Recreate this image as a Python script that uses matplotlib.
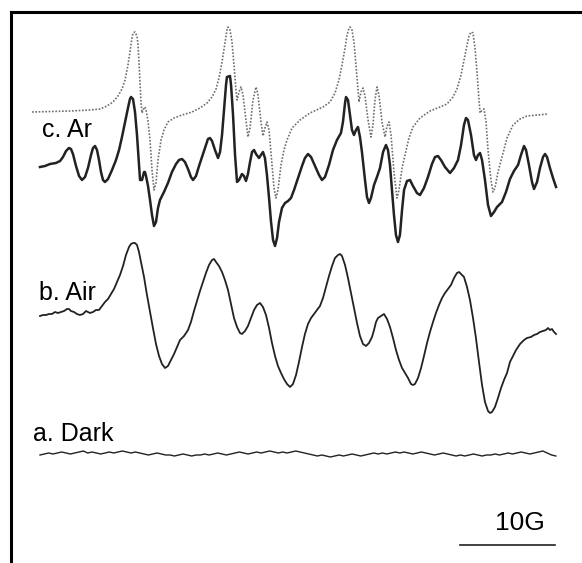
import numpy as np
import matplotlib
matplotlib.use('Agg')
import matplotlib.pyplot as plt
from matplotlib.lines import Line2D

# (field in G, signal in a.u., up = positive)
# c. Ar, simulated spectrum (dotted)
ar_sim = [(-0.84, 0), (1.05, 0.5), (3.16, 1), (5.26, 2), (6.32, 3), (7.05, 6), (7.68, 10),
          (8.21, 16), (8.63, 23), (8.95, 32), (9.26, 47), (9.47, 60), (9.68, 74), (9.79, 79),
          (10.00, 80), (10.21, 76), (10.32, 67), (10.42, 50), (10.53, 29), (10.63, 10),
          (10.74, -1), (10.95, 4), (11.05, 5), (11.16, 2), (11.37, -9), (11.58, -28),
          (11.79, -58), (12.00, -78), (12.21, -71), (12.42, -48), (12.74, -28), (13.05, -18),
          (13.47, -10), (14.11, -6), (14.95, -3), (16.00, 0), (16.84, 4), (17.58, 9),
          (18.11, 15), (18.53, 23), (18.84, 34), (19.16, 50), (19.47, 69), (19.68, 82),
          (19.79, 85), (20.00, 82), (20.21, 70), (20.42, 47), (20.63, 22), (20.74, 12),
          (20.95, 20), (21.16, 25), (21.37, 17), (21.68, -8), (21.89, -25), (22.11, -16),
          (22.42, 12), (22.74, 25), (22.95, 17), (23.26, -10), (23.47, -24), (23.68, -16),
          (23.89, -10), (24.11, -18), (24.42, -53), (24.63, -76), (24.84, -86), (25.05, -78),
          (25.37, -53), (25.68, -38), (26.00, -28), (26.53, -16), (27.37, -8), (28.42, -1),
          (29.79, 5), (30.53, 10), (31.05, 19), (31.47, 32), (31.79, 47), (32.11, 64),
          (32.32, 77), (32.53, 84), (32.63, 85), (32.84, 82), (33.05, 70), (33.26, 47),
          (33.47, 22), (33.58, 10), (33.79, 20), (34.00, 24), (34.21, 16), (34.53, -8),
          (34.84, -25), (35.05, -13), (35.26, 12), (35.47, 25), (35.68, 17), (36.00, -10),
          (36.32, -25), (36.53, -14), (36.74, -10), (36.95, -23), (37.26, -60), (37.58, -86),
          (37.79, -78), (38.11, -56), (38.42, -43), (38.84, -26), (39.26, -15), (40.00, -6),
          (41.05, 1), (42.11, 5), (42.84, 8), (43.47, 15), (43.89, 23), (44.32, 37),
          (44.63, 52), (44.95, 67), (45.16, 76), (45.37, 80), (45.58, 79), (45.79, 64),
          (46.00, 40), (46.21, 12), (46.32, -1), (46.53, 2), (46.74, 3), (46.95, -10),
          (47.16, -38), (47.47, -68), (47.68, -80), (47.89, -76), (48.21, -60), (48.63, -45),
          (49.16, -26), (49.79, -13), (50.53, -7), (51.26, -4), (52.32, -3), (53.47, -2)]

# c. Ar, experimental spectrum
ar_exp = [(0.00, -2), (0.53, -1), (1.05, 1), (1.68, 2), (2.11, 4), (2.42, 8), (2.74, 14),
          (3.05, 17), (3.26, 16), (3.47, 11), (3.79, -1), (4.11, -11), (4.42, -15), (4.74, -12),
          (5.05, -3), (5.37, 10), (5.58, 17), (5.79, 19), (6.00, 15), (6.21, 5), (6.42, -7),
          (6.63, -15), (6.84, -17), (7.16, -14), (7.58, -5), (8.00, 5), (8.32, 15), (8.63, 28),
          (8.95, 43), (9.26, 57), (9.47, 66), (9.58, 68), (9.79, 66), (10.00, 53), (10.21, 30),
          (10.42, 0), (10.53, -15), (10.74, -15), (10.95, -7), (11.05, -7), (11.16, -11),
          (11.37, -21), (11.58, -35), (11.79, -50), (12.00, -61), (12.21, -57), (12.42, -43),
          (12.63, -35), (13.05, -27), (13.47, -18), (13.89, -7), (14.32, 1), (14.63, 5),
          (14.95, 6), (15.26, 3), (15.58, -4), (15.89, -12), (16.11, -15), (16.42, -11),
          (16.74, -1), (17.05, 8), (17.37, 17), (17.68, 26), (17.89, 27), (18.11, 24),
          (18.42, 15), (18.74, 7), (18.95, 13), (19.16, 30), (19.37, 55), (19.58, 80),
          (19.68, 88), (20.00, 89), (20.11, 80), (20.32, 50), (20.53, 10), (20.74, -17),
          (20.95, -15), (21.26, -9), (21.47, -11), (21.68, -16), (21.89, -9), (22.11, 3),
          (22.32, 13), (22.53, 15), (22.74, 11), (23.05, 7), (23.26, 10), (23.47, 13),
          (23.68, 7), (23.89, -10), (24.11, -33), (24.32, -57), (24.53, -75), (24.74, -81),
          (24.95, -73), (25.16, -57), (25.47, -43), (25.79, -38), (26.11, -36), (26.42, -33),
          (26.74, -25), (27.16, -13), (27.58, -1), (27.89, 7), (28.21, 11), (28.53, 8),
          (28.95, -1), (29.37, -10), (29.68, -15), (30.00, -12), (30.42, 0), (30.84, 15),
          (31.26, 25), (31.68, 32), (31.89, 43), (32.11, 62), (32.21, 68), (32.42, 65),
          (32.63, 50), (32.84, 35), (33.05, 30), (33.26, 35), (33.47, 38), (33.68, 28),
          (33.89, 13), (34.21, -15), (34.42, -32), (34.63, -38), (34.84, -33), (35.16, -20),
          (35.47, -12), (35.79, -3), (36.11, 13), (36.42, 20), (36.63, 15), (36.84, 0),
          (37.05, -25), (37.26, -50), (37.47, -70), (37.68, -77), (37.89, -70), (38.11, -45),
          (38.32, -25), (38.63, -16), (38.95, -15), (39.26, -21), (39.68, -28), (40.00, -30),
          (40.42, -23), (40.84, -12), (41.26, 1), (41.58, 8), (41.89, 9), (42.21, 5),
          (42.63, -2), (43.16, -8), (43.58, -3), (44.00, 5), (44.32, 20), (44.63, 40),
          (44.84, 47), (45.05, 45), (45.37, 30), (45.68, 10), (45.89, 5), (46.11, 10),
          (46.32, 12), (46.53, 5), (46.84, -15), (47.16, -40), (47.47, -51), (47.79, -47),
          (48.11, -42), (48.63, -37), (49.05, -27), (49.47, -14), (49.89, -6), (50.32, 0),
          (50.63, 10), (50.95, 19), (51.16, 15), (51.47, 0), (51.79, -17), (52.00, -24),
          (52.32, -17), (52.63, -3), (52.95, 8), (53.16, 11), (53.37, 8), (53.68, -3),
          (54.00, -13), (54.32, -22)]

# b. Air
air = [(0.00, -1), (0.32, 0), (0.63, 0), (0.95, 1), (1.26, 1), (1.58, 3), (1.89, 2), (2.21, 3),
       (2.53, 4), (2.84, 6), (3.05, 6), (3.26, 4), (3.58, 3), (3.89, 1), (4.21, 0), (4.53, 1),
       (4.84, 4), (5.05, 3), (5.26, 2), (5.58, 3), (5.89, 5), (6.21, 5), (6.53, 9), (6.84, 13),
       (7.16, 16), (7.47, 21), (7.79, 26), (8.11, 33), (8.42, 40), (8.74, 49), (9.05, 60),
       (9.37, 68), (9.58, 71), (9.79, 72), (10.00, 72), (10.21, 70), (10.42, 63), (10.63, 53),
       (10.95, 38), (11.26, 20), (11.58, 3), (11.89, -13), (12.21, -29), (12.53, -41),
       (12.84, -49), (13.16, -53), (13.47, -51), (13.79, -45), (14.11, -39), (14.42, -32),
       (14.74, -25), (15.16, -21), (15.58, -15), (15.89, -7), (16.21, 4), (16.53, 14),
       (16.84, 24), (17.16, 33), (17.47, 42), (17.79, 50), (18.11, 55), (18.32, 56),
       (18.53, 53), (18.84, 49), (19.16, 43), (19.47, 35), (19.79, 25), (20.11, 11),
       (20.42, -3), (20.74, -12), (21.05, -18), (21.26, -19), (21.58, -16), (21.89, -11),
       (22.21, -3), (22.53, 5), (22.84, 10), (23.16, 12), (23.47, 8), (23.79, 0),
       (24.11, -13), (24.42, -28), (24.74, -41), (25.05, -51), (25.37, -58), (25.68, -64),
       (26.00, -69), (26.32, -72), (26.63, -69), (26.95, -60), (27.26, -47), (27.58, -32),
       (27.89, -19), (28.21, -9), (28.53, -3), (28.84, 1), (29.16, 5), (29.47, 9),
       (29.79, 17), (30.11, 28), (30.42, 39), (30.74, 49), (31.05, 57), (31.37, 60),
       (31.58, 61), (31.79, 59), (32.11, 50), (32.42, 37), (32.74, 22), (33.05, 7),
       (33.37, -8), (33.68, -21), (34.00, -29), (34.32, -31), (34.63, -28), (34.95, -22),
       (35.16, -15), (35.37, -7), (35.58, -3), (35.89, -1), (36.21, 1), (36.53, -4),
       (36.84, -12), (37.16, -23), (37.47, -35), (37.79, -45), (38.11, -53), (38.42, -58),
       (38.74, -63), (39.05, -69), (39.26, -70), (39.47, -69), (39.79, -63), (40.11, -53),
       (40.42, -41), (40.74, -28), (41.05, -17), (41.37, -7), (41.68, 2), (42.00, 10),
       (42.32, 17), (42.63, 22), (42.95, 26), (43.26, 30), (43.58, 37), (43.89, 42),
       (44.11, 43), (44.32, 41), (44.63, 38), (44.95, 28), (45.26, 15), (45.58, -3),
       (45.89, -23), (46.21, -47), (46.53, -70), (46.84, -87), (47.16, -96), (47.37, -98),
       (47.58, -97), (47.89, -92), (48.21, -83), (48.53, -73), (48.84, -65), (49.16, -58),
       (49.47, -47), (49.79, -41), (50.11, -35), (50.53, -29), (50.95, -25), (51.26, -23),
       (51.68, -22), (52.00, -20), (52.32, -19), (52.63, -17), (52.95, -16), (53.26, -15),
       (53.47, -13), (53.68, -15), (53.89, -14), (54.11, -17), (54.32, -19)]

# a. Dark, baseline noise only
dark_signal = [-1, 0, 1, 0, 1, 2, 1, 0, 1, 2, 3, 1, 2, 1, 0, 1, 2, 1, 2, 3, 2, 1, 2, 1, 0, -1,
               0, 1, 0, -1, -1, -2, -1, 0, -1, -2, -1, -1, 0, -1, 0, 1, 0, -1, 0, 1, 2, 1, 0,
               1, 2, 1, 2, 3, 2, 1, 2, 1, 2, 3, 2, 1, 0, -1, -2, -1, -2, -3, -2, -1, -2, -1, 0,
               -1, -2, -1, 0, 1, 0, 1, 0, 1, 2, 1, 2, 1, 0, 1, 2, 1, 0, -1, 0, 1, 0, -1, -2,
               -1, -2, -1, 0, -1, -2, -1, -1, 0, -1, 0, 1, 0, 1, 2, 1, 0, 1, 2, 3, 1, -1, -2]
dark_field = np.linspace(0.0, 54.3, len(dark_signal))

labels = ['c. Ar', 'b. Air', 'a. Dark']
scale_bar_G = 10

# vertical offsets for stacking the traces
off_sim = 112
off_ar = 165
off_air = 315
off_dark = 454

px_per_G = 9.5
x0 = 40


def split(pairs):
    f, s = zip(*pairs)
    return np.array(f), np.array(s)


plt.rcParams['font.family'] = ['Liberation Sans', 'DejaVu Sans']

fig = plt.figure(figsize=(5.82, 5.63), dpi=100)
ax = fig.add_axes([0, 0, 1, 1])
ax.set_xlim(-x0 / px_per_G, (582 - x0) / px_per_G)
ax.set_ylim(563, 0)
ax.axis('off')

f, s = split(ar_sim)
ax.plot(f, off_sim - s, color='#6e6e6e', lw=1.2, linestyle=(0, (1, 1)))
f, s = split(ar_exp)
ax.plot(f, off_ar - s, color='#222222', lw=1.8, solid_joinstyle='round')
f, s = split(air)
ax.plot(f, off_air - s, color='#222222', lw=1.3, solid_joinstyle='round')
ax.plot(dark_field, off_dark - np.array(dark_signal), color='#222222', lw=1.0)

# labels
ax.text(0.2, 130, labels[0], fontsize=18, va='center', ha='left')
ax.text(-0.1, 293, labels[1], fontsize=18, va='center', ha='left')
ax.text(-0.7, 434, labels[2], fontsize=18, va='center', ha='left')

# scale bar
bar_start = 44.2
ax.plot([bar_start, bar_start + scale_bar_G], [545, 545], color='#222222', lw=1.2)
ax.text(53.15, 523, '10G', fontsize=19, ha='right', va='center')

# frame on left and top only
fig.add_artist(Line2D([11 / 582, 11 / 582], [0, 1 - 12 / 563], color='black', lw=2.2))
fig.add_artist(Line2D([11 / 582, 1], [1 - 12 / 563, 1 - 12 / 563], color='black', lw=2.2))

fig.savefig('out.png', dpi=100)
